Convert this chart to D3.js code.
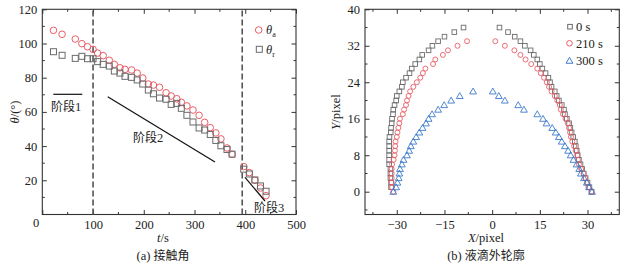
<!DOCTYPE html>
<html>
<head>
<meta charset="utf-8">
<script src="https://cdn.jsdelivr.net/npm/d3@7"></script>
<style>
  body { margin: 0; background: #fff; }
  svg text { font-family: "Liberation Serif", "DejaVu Serif", serif; fill: #222; }
  svg text .cjk, svg text.cjk { font-family: "Noto Sans CJK SC", sans-serif; }
</style>
</head>
<body>
<svg id="chart" width="630" height="267"></svg>
<script>
// (a) contact angle vs time
const timeS = [22, 39, 65, 78, 89, 100, 109, 120, 132, 142, 153, 163, 176, 187, 198, 209, 219, 231, 244, 254,
  265, 274, 285, 297, 309, 320, 331, 342, 352, 364, 374, 397, 408, 419, 430, 441];
const thetaA = [107.7, 105.4, 102.6, 99.9, 98.1, 96.6, 94.4, 92.9, 90.2, 87.8, 85.8, 84.9, 84.5, 82.7, 79.8, 76.3, 75.7, 74.4, 71.2, 69.3,
  67.7, 65.6, 63.5, 61.1, 58, 53.9, 50.8, 47.7, 44.2, 38.9, 35.2, 28, 24.5, 20, 15.5, 11];
const thetaR = [95.2, 93.1, 91.3, 92.5, 91.1, 91.1, 89.4, 87.8, 86.8, 83.9, 82.7, 80.8, 80.2, 78.7, 76.3, 72.8, 70.6, 68.1, 67.4, 64.4,
  65, 62.1, 58, 54.1, 50.6, 49.4, 46.8, 43.3, 40.2, 38, 35.3, 26.5, 23.7, 20.2, 16.7, 13.6];
const stageBounds = [100, 394];
const tTicks = [0, 100, 200, 300, 400, 500];
const thetaTicks = [20, 40, 60, 80, 100, 120];

// (b) droplet profile, [X, Y] in pixel
const profile0 = [[-9, 36], [-11.9, 35], [-15, 34], [-17, 33], [-18.8, 32], [-20, 31], [-22, 30], [-22.9, 29], [-24.2, 28], [-25.3, 27],
  [-26, 26], [-27.1, 25], [-28.1, 24], [-28.4, 23], [-29.2, 22], [-30, 21], [-30.2, 20], [-30.7, 19], [-31.1, 18], [-31.2, 17],
  [-31.5, 16], [-31.6, 15], [-31.8, 14], [-31.9, 13], [-32.3, 12], [-32.4, 11], [-32.4, 10], [-32.4, 9], [-32.4, 8], [-32.4, 7],
  [-32.4, 6], [-32, 5], [-32, 4], [-32, 3], [-31.8, 2], [-31.8, 1],
  [2.3, 36], [5, 35], [7.1, 34], [8.9, 33], [10.3, 32], [12.1, 31], [13.1, 30], [14.2, 29], [15, 28], [15.8, 27],
  [16.8, 26], [17.7, 25], [18.2, 24], [18.7, 23], [19.7, 22], [20.3, 21], [21, 20], [21.9, 19], [22.6, 18], [22.9, 17],
  [23.5, 16], [24.2, 15], [24.6, 14], [25, 13], [25.5, 12], [26, 11], [26.3, 10], [26.6, 9], [26.9, 8], [27.3, 7],
  [27.8, 6], [28.3, 5], [28.8, 4], [29.4, 3], [30, 2], [30.6, 1], [31.3, 0]];
const profile210 = [[-7.9, 33], [-10.9, 32], [-13.9, 31], [-15.5, 30], [-17.9, 29], [-18.6, 28], [-21, 27], [-21.8, 26], [-22.6, 25], [-23.7, 24],
  [-24.8, 23], [-25.8, 22], [-26.3, 21], [-26.8, 20], [-27.1, 19], [-27.7, 18], [-28.1, 17], [-29, 16], [-29.2, 15], [-29.5, 14],
  [-29.8, 13], [-30, 12], [-30.4, 11], [-30.5, 10], [-30.6, 9], [-30.7, 8], [-31, 7], [-31.5, 6], [-31.6, 5], [-31.6, 4],
  [-31.6, 3], [-31.6, 2], [-31.5, 1], [-31.1, 0],
  [1, 33], [4, 32], [7, 31], [8.9, 30], [10.5, 29], [12.3, 28], [14.2, 27], [15.3, 26], [16.3, 25], [17.2, 24],
  [17.9, 23], [18.7, 22], [19.7, 21], [20.5, 20], [21.3, 19], [21.6, 18], [22.3, 17], [23.1, 16], [23.8, 15], [24.2, 14],
  [24.5, 13], [24.8, 12], [25.2, 11], [25.8, 10], [26.3, 9], [26.8, 8], [27, 7], [27.3, 6], [28, 5], [28.8, 4],
  [29.3, 3], [29.8, 2], [30.3, 1], [31.2, 0]];
const profile300 = [[-6, 22], [-10.2, 21], [-12.9, 20], [-15.1, 19], [-17, 18], [-18.9, 17], [-20, 16], [-20.8, 15], [-21.9, 14], [-22.9, 13],
  [-23.9, 12], [-24.8, 11], [-25.6, 10], [-26.1, 9], [-26.8, 8], [-27.9, 7], [-28.4, 6], [-29, 5], [-29.2, 4], [-29.4, 3],
  [-29.8, 2], [-30.2, 1], [-31.1, 0],
  [0.2, 22], [2.1, 21], [4, 20], [8.2, 19], [10, 18], [14.2, 17], [16, 16], [17.1, 15], [18.9, 14], [20, 13],
  [21, 12], [21.9, 11], [22.9, 10], [23.9, 9], [24.7, 8], [25.6, 7], [26.6, 6], [27.4, 5], [27.9, 4], [28.9, 3],
  [29.8, 2], [30.5, 1], [31.4, 0]];
const xTicks = [-30, -15, 0, 15, 30];
const yTicks = [0, 8, 16, 24, 32, 40];
const seriesNames = ['0 s', '210 s', '300 s'];

const red = '#ea5d66', gray = '#6b6b6b', blue = '#3c7bcc';
const serif = '"Liberation Serif", "DejaVu Serif", serif';
const svg = d3.select('#chart');

function frame(g, x, y, xMinor, yMinor) {
  const [x0, x1] = x.range(), [y0, y1] = y.range();
  g.append('rect').attr('x', x0).attr('y', y1).attr('width', x1 - x0).attr('height', y0 - y1)
    .attr('fill', 'none').attr('stroke', '#333').attr('stroke-width', 1.1);
  const tick = (sel) => sel.attr('stroke', '#333').attr('stroke-width', 1);
  // minor ticks on all sides
  xMinor.forEach(v => {
    tick(g.append('line').attr('x1', x(v)).attr('x2', x(v)).attr('y1', y0).attr('y2', y0 - 2.5));
    tick(g.append('line').attr('x1', x(v)).attr('x2', x(v)).attr('y1', y1).attr('y2', y1 + 2.5));
  });
  yMinor.forEach(v => {
    tick(g.append('line').attr('y1', y(v)).attr('y2', y(v)).attr('x1', x0).attr('x2', x0 + 2.5));
    tick(g.append('line').attr('y1', y(v)).attr('y2', y(v)).attr('x1', x1).attr('x2', x1 - 2.5));
  });
}

function axes(g, x, y, xT, yT, xFmt) {
  const [y0, y1] = y.range(), [x0, x1] = x.range();
  const xa = g.append('g').attr('transform', `translate(0,${y0})`)
    .call(d3.axisBottom(x).tickValues(xT).tickSize(-4.5).tickPadding(6).tickFormat(xFmt));
  const xt = g.append('g').attr('transform', `translate(0,${y1})`)
    .call(d3.axisTop(x).tickValues(xT).tickSize(-4.5).tickFormat(''));
  const ya = g.append('g').attr('transform', `translate(${x0},0)`)
    .call(d3.axisLeft(y).tickValues(yT).tickSize(-4.5).tickPadding(5));
  const yr = g.append('g').attr('transform', `translate(${x1},0)`)
    .call(d3.axisRight(y).tickValues(yT).tickSize(-4.5).tickFormat(''));
  [xa, xt, ya, yr].forEach(a => {
    a.attr('font-family', serif).attr('font-size', 12.5);
    a.select('.domain').remove();
    a.selectAll('line').attr('stroke', '#333');
    a.selectAll('text').attr('fill', '#222');
  });
}

// ---------- (a) ----------
const gA = svg.append('g').attr('font-family', serif);
const xA = d3.scaleLinear().domain([0, 500]).range([42.3, 296]);
const yA = d3.scaleLinear().domain([0, 120]).range([214.5, 9.3]);
frame(gA, xA, yA, [50, 150, 250, 350, 450], [10, 30, 50, 70, 90, 110]);
axes(gA, xA, yA, tTicks, thetaTicks, d => d === 0 ? '' : d);
gA.append('text').attr('x', 36).attr('y', 226.5).attr('text-anchor', 'middle').attr('font-size', 12.5).text(tTicks[0]);

stageBounds.forEach(v => {
  gA.append('line').attr('x1', xA(v)).attr('x2', xA(v)).attr('y1', yA(0)).attr('y2', yA(120))
    .attr('stroke', '#555').attr('stroke-width', 1.6).attr('stroke-dasharray', '6,3');
});

gA.selectAll('.ta').data(timeS).enter().append('circle')
  .attr('cx', d => xA(d)).attr('cy', (d, i) => yA(thetaA[i])).attr('r', 3.3)
  .attr('fill', 'none').attr('stroke', red).attr('stroke-width', 1);
gA.selectAll('.tr').data(timeS).enter().append('rect')
  .attr('x', d => xA(d) - 3).attr('y', (d, i) => yA(thetaR[i]) - 3).attr('width', 6).attr('height', 6)
  .attr('fill', 'none').attr('stroke', gray).attr('stroke-width', 1);

// stage annotations
const ann = [
  { x1: 53.3, y1: 94.3, x2: 82.3, y2: 94.3, tx: 51, ty: 110.5, label: '阶段1' },
  { x1: 107.7, y1: 96.7, x2: 215, y2: 162, tx: 133, ty: 141.5, label: '阶段2' },
  { x1: 245, y1: 177.3, x2: 265, y2: 201, tx: 254, ty: 212, label: '阶段3' }
];
ann.forEach(a => {
  gA.append('line').attr('x1', a.x1).attr('y1', a.y1).attr('x2', a.x2).attr('y2', a.y2)
    .attr('stroke', '#111').attr('stroke-width', 1.2);
  const t = gA.append('text').attr('x', a.tx).attr('y', a.ty).attr('font-size', 12.5);
  t.append('tspan').attr('class', 'cjk').attr('font-size', 12).text(a.label.slice(0, 2));
  t.append('tspan').text(a.label.slice(2));
});

// legend (a)
gA.append('circle').attr('cx', 258.7).attr('cy', 30).attr('r', 3.3).attr('fill', 'none').attr('stroke', red);
gA.append('rect').attr('x', 256.3).attr('y', 46.3).attr('width', 6).attr('height', 6).attr('fill', 'none').attr('stroke', gray);
[['a', 34], ['r', 53.5]].forEach(([s, yy]) => {
  const t = gA.append('text').attr('x', 266).attr('y', yy).attr('font-size', 12.5);
  t.append('tspan').attr('font-style', 'italic').text('θ');
  t.append('tspan').attr('font-size', 8).attr('dy', 3).text(s);
});

// axis titles (a)
const ytA = gA.append('text').attr('transform', 'translate(19,112) rotate(-90)').attr('text-anchor', 'middle').attr('font-size', 12.5);
ytA.append('tspan').attr('font-style', 'italic').text('θ');
ytA.append('tspan').text('/(°)');
const xtA = gA.append('text').attr('x', 163).attr('y', 242).attr('text-anchor', 'middle').attr('font-size', 12.5);
xtA.append('tspan').attr('font-style', 'italic').text('t');
xtA.append('tspan').text('/s');
const capA = gA.append('text').attr('x', 163).attr('y', 260).attr('text-anchor', 'middle').attr('font-size', 12.5);
capA.append('tspan').text('(a) ');
capA.append('tspan').attr('class', 'cjk').attr('font-size', 12).text('接触角');

// ---------- (b) ----------
const gB = svg.append('g').attr('font-family', serif);
const xB = d3.scaleLinear().domain([-40, 40]).range([365, 619.3]);
const yB = d3.scaleLinear().domain([-5, 40]).range([214.5, 9.3]);
frame(gB, xB, yB, [-37.5, -22.5, -7.5, 7.5, 22.5, 37.5], [-4, 4, 12, 20, 28, 36]);
axes(gB, xB, yB, xTicks, yTicks, d => d < 0 ? '\u2212' + Math.abs(d) : d);

gB.selectAll('.p0').data(profile0).enter().append('rect')
  .attr('x', d => xB(d[0]) - 2.3).attr('y', d => yB(d[1]) - 2.3).attr('width', 4.6).attr('height', 4.6)
  .attr('fill', 'none').attr('stroke', gray).attr('stroke-width', 0.9);
gB.selectAll('.p210').data(profile210).enter().append('circle')
  .attr('cx', d => xB(d[0])).attr('cy', d => yB(d[1])).attr('r', 2.5)
  .attr('fill', 'none').attr('stroke', red).attr('stroke-width', 0.9);
const tri = d3.symbol().type(d3.symbolTriangle).size(20);
gB.selectAll('.p300').data(profile300).enter().append('path')
  .attr('d', tri).attr('transform', d => `translate(${xB(d[0])},${yB(d[1]) + 0.6})`)
  .attr('fill', 'none').attr('stroke', blue).attr('stroke-width', 0.9);

// legend (b)
const lgY = [26.7, 43.3, 60.7];
gB.append('rect').attr('x', 567.7).attr('y', lgY[0] - 2.3).attr('width', 4.6).attr('height', 4.6).attr('fill', 'none').attr('stroke', gray);
gB.append('circle').attr('cx', 569.5).attr('cy', lgY[1]).attr('r', 2.8).attr('fill', 'none').attr('stroke', red);
gB.append('path').attr('d', tri).attr('transform', `translate(569.5,${lgY[2] + 0.6})`).attr('fill', 'none').attr('stroke', blue);
seriesNames.forEach((s, i) => {
  gB.append('text').attr('x', 576).attr('y', lgY[i] + 4.3).attr('font-size', 12.5).text(s);
});

const ytB = gB.append('text').attr('transform', 'translate(340,112) rotate(-90)').attr('text-anchor', 'middle').attr('font-size', 12.5);
ytB.append('tspan').attr('font-style', 'italic').text('Y');
ytB.append('tspan').text('/pixel');
const xtB = gB.append('text').attr('x', 486).attr('y', 242).attr('text-anchor', 'middle').attr('font-size', 12.5);
xtB.append('tspan').attr('font-style', 'italic').text('X');
xtB.append('tspan').text('/pixel');
const capB = gB.append('text').attr('x', 486).attr('y', 260).attr('text-anchor', 'middle').attr('font-size', 12.5);
capB.append('tspan').text('(b) ');
capB.append('tspan').attr('class', 'cjk').attr('font-size', 12).text('液滴外轮廓');
</script>
</body>
</html>
